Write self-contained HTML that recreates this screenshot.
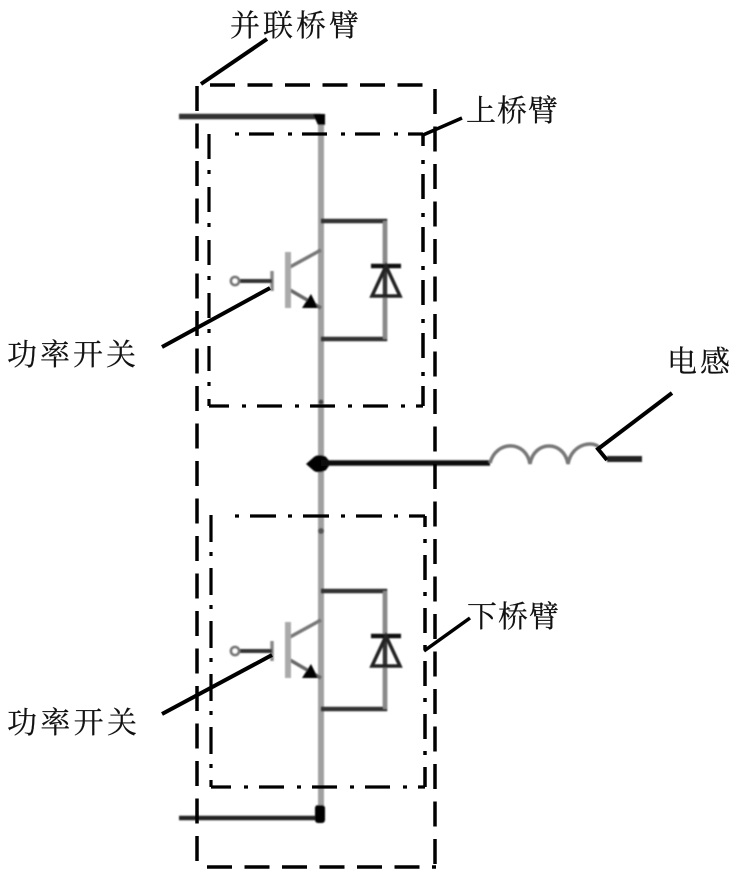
<!DOCTYPE html>
<html><head><meta charset="utf-8">
<style>
html,body{margin:0;padding:0;background:#fff;width:738px;height:879px;overflow:hidden}
svg{display:block}
text{font-family:"Liberation Serif","Noto Serif CJK SC",serif;font-size:30px;fill:#111;stroke:#111;stroke-width:.2}
</style></head>
<body>
<svg width="738" height="879" viewBox="0 0 738 879" xmlns="http://www.w3.org/2000/svg">
<defs>
<filter id="b" x="-10%" y="-10%" width="120%" height="120%"><feGaussianBlur stdDeviation="0.9"/></filter>
<filter id="s" x="-5%" y="-5%" width="110%" height="110%"><feGaussianBlur stdDeviation="0.35"/></filter>
<g id="sw" filter="url(#b)">
  <path d="M321 221H385V339H321" fill="none" stroke="#333" stroke-width="4.5"/>
  <path d="M385 221V266M385 296V339" fill="none" stroke="#888" stroke-width="4"/>
  <path d="M371 266H401" stroke="#111" stroke-width="4.5"/>
  <path d="M372 296H400L386 266Z" fill="none" stroke="#222" stroke-width="3.5"/>
  <path d="M321 250L290 267" stroke="#777" stroke-width="3.5"/>
  <path d="M290 290L321 308" stroke="#666" stroke-width="3.5"/>
  <path d="M302 308H318L311 294Z" fill="#000"/>
  <path d="M288 252V308" stroke="#aaa" stroke-width="6"/>
  <path d="M272 271V291" stroke="#888" stroke-width="3.5"/>
  <path d="M240 281H272" stroke="#333" stroke-width="4"/>
  <circle cx="235" cy="281" r="4" fill="#fff" stroke="#777" stroke-width="2.8"/>
</g>
</defs>

<g filter="url(#b)">
  <path d="M321 118V815" stroke="#a0a0a0" stroke-width="6" fill="none"/>
  <path d="M179 116.500H321" stroke="#333" stroke-width="5.500" fill="none"/>
  <path d="M313 114H325V125H318Z" fill="#000"/>
  <path d="M179 818H321" stroke="#222" stroke-width="4.500" fill="none"/>
  <rect x="315" y="805" width="10" height="18" rx="3" fill="#000"/>
  <path d="M306 464L314 457Q320 453 326 457L331 463L326 470Q320 474 314 471Z" fill="#000"/>
  <path d="M321 463H490" stroke="#111" stroke-width="5.500" fill="none"/>
  <path d="M490 463C496 440 526 440 530 464C534 440 564 440 568 464C572 442 596 440 600 449" fill="none" stroke="#777" stroke-width="3.500"/>
  <path d="M607 459H642" stroke="#222" stroke-width="6" fill="none"/>
  <circle cx="321" cy="531" r="3" fill="#555"/>
  <circle cx="321" cy="402" r="2.500" fill="#444"/>
</g>

<use href="#sw"/>
<use href="#sw" y="370"/>

<g fill="none" stroke="#000" filter="url(#s)">
  <path d="M210 85H435" stroke-width="3.500" stroke-dasharray="25 12.500"/>
  <path d="M197 86V866" stroke-width="3.500" stroke-dasharray="25 12.500"/>
  <path d="M435 89V867" stroke-width="3.500" stroke-dasharray="25 12.500"/>
  <path d="M207 867H436" stroke-width="3.500" stroke-dasharray="25 12.500"/>

  <path d="M235 134H423" stroke-width="3.200" stroke-dasharray="4 10 25 14"/>
  <path d="M423 134V406" stroke-width="3.500" stroke-dasharray="25 14 4 10" stroke-dashoffset="13"/>
  <path d="M423 406H209" stroke-width="3.200" stroke-dasharray="25 11 4 13" stroke-dashoffset="18"/>
  <path d="M209 134V406" stroke-width="3.200" stroke-dasharray="25 11 4 13"/>

  <path d="M235 516H425" stroke-width="3.200" stroke-dasharray="4 11 26 12"/>
  <path d="M425 516V787" stroke-width="3.500" stroke-dasharray="25 12 4 12" stroke-dashoffset="14"/>
  <path d="M425 787H211" stroke-width="3.200" stroke-dasharray="25 11 4 13" stroke-dashoffset="18"/>
  <path d="M211 515V787" stroke-width="3.200" stroke-dasharray="27 10 4 12"/>

  <path d="M201 84L267 39" stroke-width="4"/>
  <path d="M423 135L462 118" stroke-width="3.500"/>
  <path d="M424 651L470 618" stroke-width="3.500"/>
  <path d="M162 347L270 288" stroke-width="4"/>
  <path d="M162 714L272 655" stroke-width="4"/>
  <path d="M672 393L598 449L607 460" stroke-width="4"/>
</g>

<text x="230" y="36" textLength="129" lengthAdjust="spacing">并联桥臂</text>
<text x="466" y="121" textLength="92" lengthAdjust="spacing">上桥臂</text>
<text x="7" y="365" textLength="129" lengthAdjust="spacing">功率开关</text>
<text x="667" y="372" textLength="63" lengthAdjust="spacing">电感</text>
<text x="467" y="627" textLength="92" lengthAdjust="spacing">下桥臂</text>
<text x="7" y="733" textLength="130" lengthAdjust="spacing">功率开关</text>
</svg>
</body></html>
